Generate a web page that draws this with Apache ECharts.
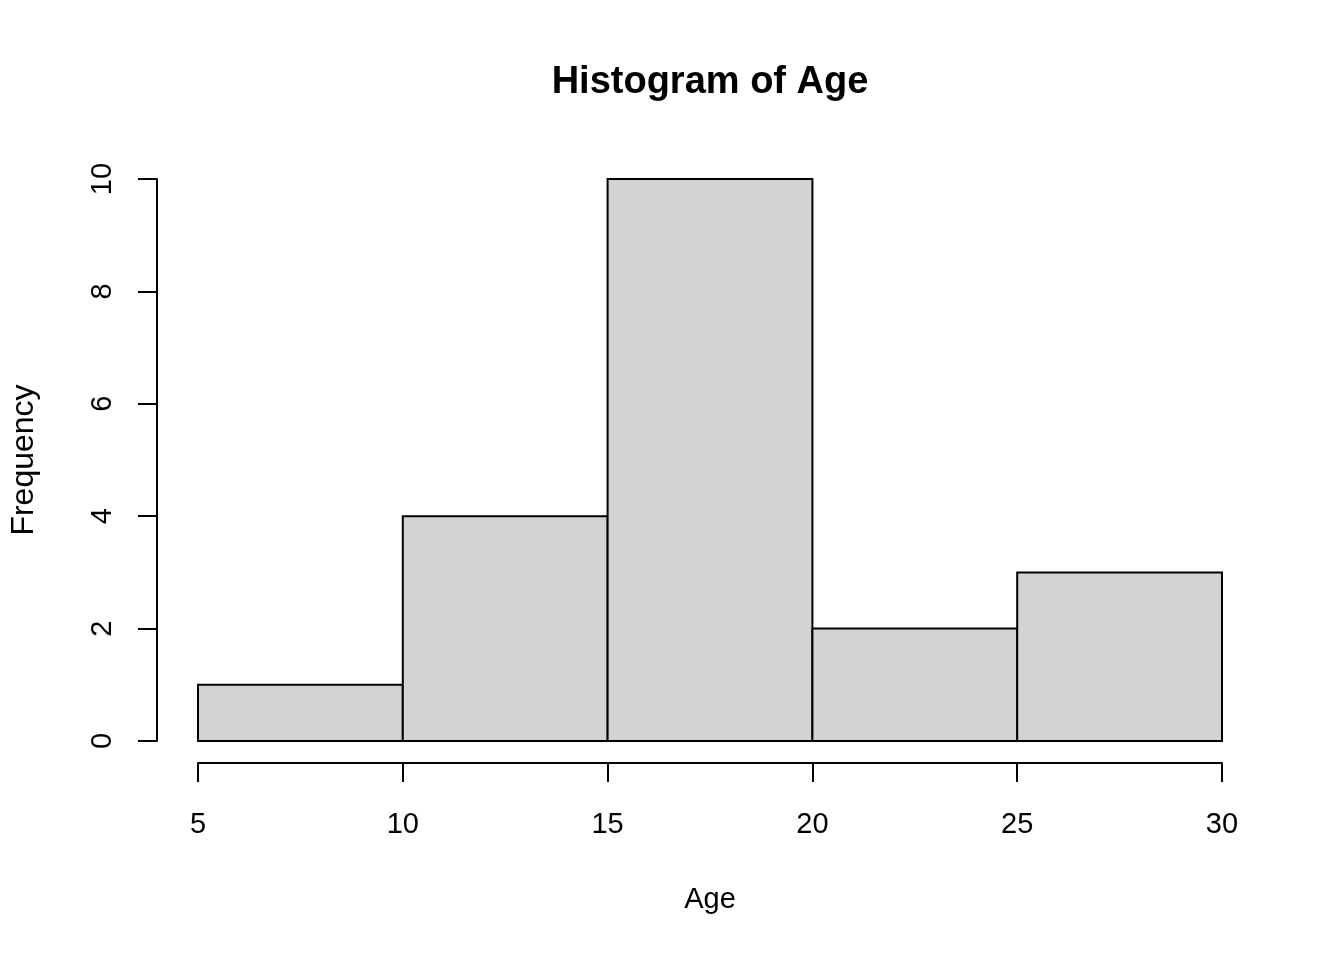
<!DOCTYPE html>
<html lang="en">
<head>
    <meta charset="UTF-8">
    <title>Histogram of Age</title>
    <script src="https://cdn.jsdelivr.net/npm/echarts@6/dist/echarts.min.js"></script>
    <style>
        html, body { margin: 0; padding: 0; background: #fff; }
    </style>
</head>
<body>
    <div id="main" style="width:1344px;height:960px;"></div>

<script>

var binStarts = [5, 10, 15, 20, 25];
var binEnds = [10, 15, 20, 25, 30];
var counts = [1, 4, 10, 2, 3];

var font = 'Liberation Sans, Arial, sans-serif';

var data = [];
for (var i = 0; i < counts.length; i++) {
    data.push([binStarts[i], binEnds[i], counts[i]]);
}

var myChart = echarts.init(document.getElementById('main'));

myChart.setOption({
    backgroundColor: '#fff',
    animation: false,
    title: {
        text: 'Histogram of Age',
        left: 710,
        textAlign: 'center',
        top: 64,
        padding: 0,
        textStyle: { fontFamily: font, fontSize: 38, fontWeight: 'bold', color: '#000' }
    },
    grid: { left: 198, width: 1024, top: 179, height: 562, containLabel: false },
    xAxis: {
        type: 'value',
        min: 5, max: 30, interval: 5,
        offset: 22,
        name: 'Age',
        nameLocation: 'middle',
        nameGap: 122,
        nameTextStyle: { fontFamily: font, fontSize: 29, color: '#000' },
        // R draws the x axis apart from the bars, so keep it off the zero line
        axisLine: { show: true, onZero: false, lineStyle: { color: '#000', width: 2 } },
        axisTick: { show: true, length: 19, lineStyle: { color: '#000', width: 2 } },
        axisLabel: { fontFamily: font, fontSize: 29, color: '#000', margin: 47 },
        splitLine: { show: false }
    },
    yAxis: {
        type: 'value',
        min: 0, max: 10, interval: 2,
        offset: 41,
        name: 'Frequency',
        nameLocation: 'middle',
        nameGap: 117,
        nameTextStyle: { fontFamily: font, fontSize: 32, color: '#000' },
        axisLine: { show: true, lineStyle: { color: '#000', width: 2 } },
        axisTick: { show: true, length: 19, lineStyle: { color: '#000', width: 2 } },
        axisLabel: { fontFamily: font, fontSize: 29, color: '#000', rotate: 90, margin: 40 },
        splitLine: { show: false }
    },
    series: [{
        type: 'custom',
        data: data,
        encode: { x: [0, 1], y: 2 },
        renderItem: function (params, api) {
            var p0 = api.coord([api.value(0), api.value(2)]);
            var p1 = api.coord([api.value(1), 0]);
            return {
                type: 'rect',
                shape: { x: p0[0], y: p0[1], width: p1[0] - p0[0], height: p1[1] - p0[1] },
                style: { fill: '#d3d3d3', stroke: '#000', lineWidth: 2 }
            };
        }
    }]
});

</script>
</body>
</html>
